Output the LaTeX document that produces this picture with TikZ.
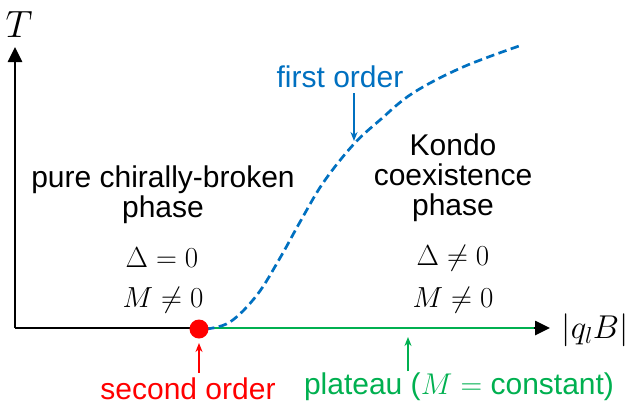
\RequirePackage{fix-cm}
\documentclass[tikz,border=0pt]{standalone}
\usepackage{fontspec}
\setmainfont{Liberation Sans}
\usetikzlibrary{arrows.meta}
\definecolor{fblue}{HTML}{0070C0}
\definecolor{fgreen}{HTML}{00B050}
\definecolor{fred}{HTML}{FF0000}
\begin{document}
\begin{tikzpicture}[x=1pt,y=-1pt,
  txt/.style={font=\fontsize{30}{30}\selectfont, align=center, inner sep=0pt},
  mth/.style={font=\fontsize{29}{30}\selectfont, inner sep=0pt},
  axis/.style={line width=2.6pt, -{Triangle[length=15pt,width=14pt]}},
  note/.style={line width=1.6pt, -{Stealth[length=9pt,width=7pt]}}]
\useasboundingbox (0,0) rectangle (640,408);
% axes
\coordinate (O) at (15,328);
\coordinate (Ytip) at (15,47);
\coordinate (Xtip) at (550,328);
\draw[axis] (O) -- (Ytip);
\draw[axis] (O) -- (Xtip);
\node[inner sep=0pt, font=\fontsize{38}{40}\selectfont] (T) at (19,25) {$T$};
\node[inner sep=0pt, font=\fontsize{33}{36}\selectfont] (qB) at (595,330) {$|q_l B|$};
% plateau line
\coordinate (G) at (200,328);
\coordinate (Gend) at (534,328);
\draw[fgreen, line width=2.8pt] (G) -- (Gend);
% first-order line
\draw[fblue, line width=2.7pt, dash pattern=on 8.5pt off 4.5pt]
  plot[smooth, tension=0.6] coordinates {(206,329) (230,322) (257,295) (280,258) (300,222) (323,183) (353,145) (380,120) (413,93) (463,67) (522,45)};
% critical point
\node[circle, fill=fred, minimum size=19pt, inner sep=0pt] (dot) at (199,329) {};
% phase labels
\node[txt] (pcb) at (163,195) {pure chirally-broken\\phase};
\node[txt] (kondo) at (453,178) {Kondo\\coexistence\\phase};
\node[mth] (d1) at (162,258) {$\Delta = 0$};
\node[mth] (m1) at (163,300) {$M \neq 0$};
\node[mth] (d2) at (453,258) {$\Delta \neq 0$};
\node[mth] (m2) at (453,300) {$M \neq 0$};
% annotations
\node[txt, text=fblue] (fo) at (340,77) {first order};
\coordinate (foA) at (354,93);
\coordinate (foB) at (354,141);
\draw[note, fblue] (foA) -- (foB);
\node[txt, text=fred] (so) at (188,389) {second order};
\coordinate (soA) at (199,373);
\coordinate (soB) at (199,343);
\draw[note, fred] (soA) -- (soB);
\node[txt, text=fgreen] (pl) at (459,387) {plateau ($M ={}$constant)};
\coordinate (plA) at (408,371);
\coordinate (plB) at (408,337);
\draw[note, fgreen] (plA) -- (plB);
\end{tikzpicture}
\end{document}
